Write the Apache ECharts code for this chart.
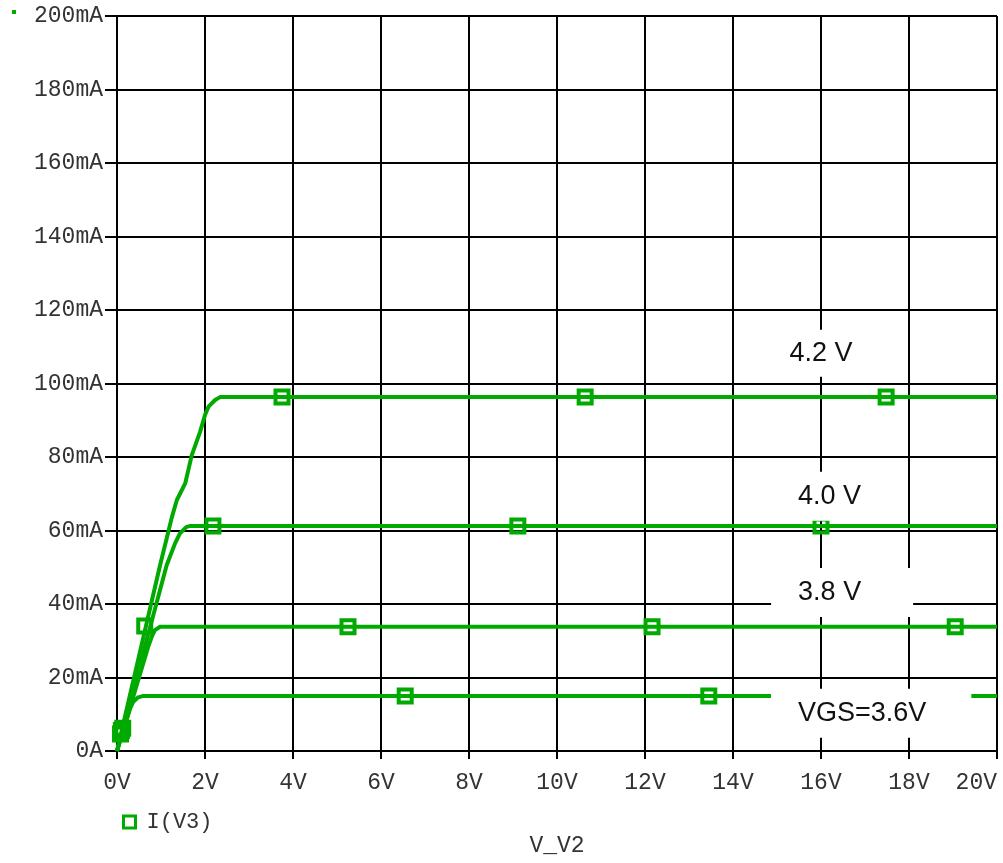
<!DOCTYPE html>
<html>
<head>
<meta charset="utf-8">
<title>I(V3) vs V_V2</title>
<script src="https://cdn.jsdelivr.net/npm/echarts@6/dist/echarts.min.js"></script>
<style>
  html, body { margin: 0; padding: 0; background: #ffffff; }
  #chart { width: 1003px; height: 863px; }
</style>
</head>
<body>
<div id="chart"></div>
<script>
// Drain current (mA) against drain voltage V_V2 (V), one trace per gate voltage.
const curve42 = [[0, 0], [0.98, 50.6], [1.13, 57.9], [1.24, 63.3], [1.36, 68.3], [1.55, 72.8],
  [1.70, 80.5], [1.89, 86.9], [2.0, 91.4], [2.08, 93.7], [2.23, 95.5], [2.34, 96.3], [20, 96.3]];
const curve40 = [[0, 0], [1.13, 50.6], [1.32, 56.5], [1.43, 59.2], [1.58, 61.0], [1.65, 61.2], [20, 61.2]];
const curve38 = [[0, 0], [0.71, 28.4], [0.79, 31.1], [0.86, 32.9], [0.98, 33.8], [20, 33.8]];
const curve36 = [[0, 0], [0.30, 11.6], [0.37, 13.4], [0.48, 14.6], [0.60, 15.0], [20, 15.0]];

// Trace markers along each curve
const marks42 = [[0.63, 34.0], [3.75, 96.3], [10.64, 96.3], [17.48, 96.3]];
const marks40 = [[0.10, 5.6], [2.18, 61.2], [9.11, 61.2], [16.0, 61.2]];
const marks38 = [[0.08, 4.6], [5.25, 33.8], [12.16, 33.8], [19.05, 33.8]];
const marks36 = [[0.13, 6.2], [6.55, 15.0], [13.45, 15.0]];

// Gate-voltage annotations: [V, mA, text]
const annotations = [
  [16.17, 108.2, '4.2 V'],
  [16.32, 69.3, '4.0 V'],
  [16.48, 43.1, '3.8 V'],
  [17.14, 10.3, 'VGS=3.6V']
];
const annotationPad = {
  '4.2 V': [10, 42, 10, 27],
  '4.0 V': [11, 38, 11, 27],
  '3.8 V': [11, 52, 11, 27],
  'VGS=3.6V': [11, 45, 11, 27]
};

const xTicks = { min: 0, max: 20, step: 2 };
const yTicks = { min: 0, max: 200, step: 20 };

const GREEN = '#00aa00';
const MONO = "'Liberation Mono', 'Courier New', monospace";

const chart = echarts.init(document.getElementById('chart'), null, { renderer: 'canvas' });

function lineSeries(data) {
  return {
    name: 'I(V3)', type: 'line', data: data, showSymbol: false, symbol: 'none',
    lineStyle: { color: GREEN, width: 4 }, itemStyle: { color: GREEN },
    z: 3, silent: true, animation: false
  };
}
function markSeries(data) {
  return {
    name: 'I(V3)', type: 'scatter', data: data, symbol: 'rect', symbolSize: 13,
    itemStyle: { color: 'rgba(0,0,0,0)', borderColor: GREEN, borderWidth: 4, opacity: 1 },
    z: 4, silent: true, animation: false
  };
}

chart.setOption({
  backgroundColor: '#ffffff',
  animation: false,
  grid: { left: 117, right: 6, top: 16, bottom: 112, containLabel: false, outerBoundsMode: 'none' },
  legend: {
    left: 117, top: 806,
    data: [{ name: 'I(V3)', icon: 'rect' }],
    itemWidth: 12, itemHeight: 12,
    itemStyle: { color: 'rgba(0,0,0,0)', borderColor: GREEN, borderWidth: 3, opacity: 1 },
    textStyle: { fontFamily: MONO, fontSize: 22, color: '#333333', padding: [0, 0, 0, 6] },
    selectedMode: false
  },
  xAxis: {
    type: 'value', min: xTicks.min, max: xTicks.max, interval: xTicks.step,
    name: 'V_V2', nameLocation: 'middle', nameGap: 83,
    nameTextStyle: { fontFamily: MONO, fontSize: 23, color: '#333333' },
    axisLine: { show: true, onZero: false, lineStyle: { color: '#000', width: 2 } },
    axisTick: { show: true, inside: false, length: 8, lineStyle: { color: '#000', width: 2 } },
    axisLabel: { margin: 20, fontFamily: MONO, fontSize: 23, color: '#333333',
      alignMaxLabel: 'right', showMaxLabel: true,
      formatter: v => v + 'V' },
    splitLine: { show: true, lineStyle: { color: '#000', width: 2 } }
  },
  yAxis: {
    type: 'value', min: yTicks.min, max: yTicks.max, interval: yTicks.step,
    axisLine: { show: true, lineStyle: { color: '#000', width: 2 } },
    axisTick: { show: true, inside: false, length: 12, lineStyle: { color: '#000', width: 2 } },
    axisLabel: { margin: 14, fontFamily: MONO, fontSize: 23, color: '#333333',
      formatter: v => (v === 0 ? '0A' : v + 'mA') },
    splitLine: { show: true, lineStyle: { color: '#000', width: 2 } }
  },
  graphic: [
    { type: 'rect', left: 12, top: 10, shape: { width: 4, height: 4 }, style: { fill: GREEN }, silent: true }
  ],
  series: [
    lineSeries(curve42), lineSeries(curve40), lineSeries(curve38), lineSeries(curve36),
    markSeries(marks42), markSeries(marks40), markSeries(marks38), markSeries(marks36),
    {
      name: 'annotations', type: 'scatter', symbolSize: 0, z: 10, silent: true, animation: false,
      itemStyle: { opacity: 1 },
      data: annotations.map(a => ({
        value: [a[0], a[1]],
        label: {
          show: true, position: 'inside', formatter: a[2],
          fontFamily: "'Liberation Sans', Arial, sans-serif", fontSize: 27, lineHeight: 27,
          color: '#111111', backgroundColor: '#ffffff', padding: annotationPad[a[2]]
        }
      }))
    }
  ]
});
</script>
</body>
</html>
